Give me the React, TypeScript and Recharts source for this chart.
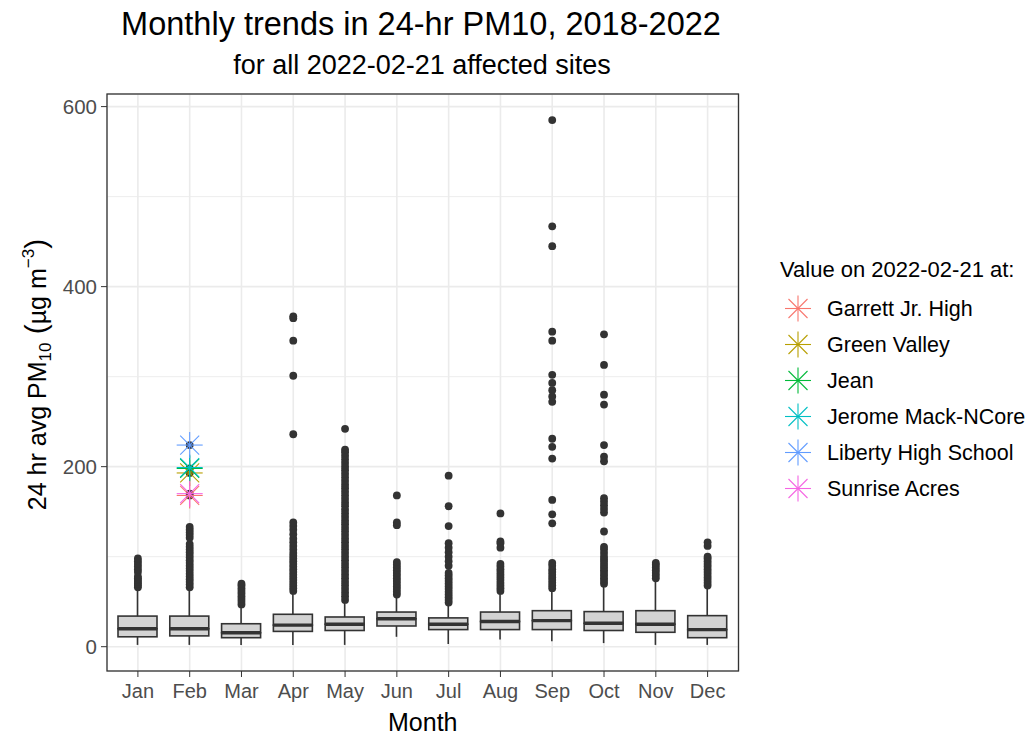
import { ComposedChart, Bar, Scatter, XAxis, YAxis, CartesianGrid, ReferenceLine } from 'recharts'

const months = ['Jan', 'Feb', 'Mar', 'Apr', 'May', 'Jun', 'Jul', 'Aug', 'Sep', 'Oct', 'Nov', 'Dec']
const whiskerLow = [2, 2, 2, 2, 2, 11, 3, 8, 6, 4, 2, 2]
const q1 = [11, 12, 10, 17, 18, 23, 19, 19, 19, 18, 16, 10]
const medians = [20, 20, 15.5, 24, 25, 31, 25, 28, 29, 26, 25, 19]
const q3 = [34, 34, 25.5, 36, 33, 38.5, 32, 38.5, 40, 39, 40, 34.5]
const whiskerHigh = [65, 65, 45, 61, 51, 56, 47, 60, 64, 68, 74, 67]

// outliers per month
const janOut = [66, 68, 70, 72, 74, 76, 78, 83, 86, 89, 92, 95, 98]
const febOut = [66, 69, 72, 75, 78, 81, 84, 87, 90, 93, 96, 99, 102, 105, 108, 111, 114, 121, 124, 127, 130, 133, 168, 170, 193, 198, 224]
const marOut = [47, 50, 53, 56, 59, 62, 65, 68, 70]
const aprOut = [62, 65, 68, 71, 74, 77, 80, 83, 86, 89, 92, 95, 98, 101, 104, 108, 112, 116, 120, 125, 130, 134, 138, 236, 301, 340, 365, 367]
const mayOut = [52, 56, 60, 64, 68, 72, 76, 80, 84, 88, 92, 96, 100, 104, 108, 112, 116, 120, 124, 128, 132, 136, 140, 144, 148, 152, 156, 160, 164, 168, 172, 176, 180, 184, 188, 192, 196, 200, 204, 208, 212, 216, 219, 242]
const junOut = [58, 61, 64, 67, 70, 73, 76, 79, 82, 85, 88, 91, 94, 135, 138, 168]
const julOut = [49, 52, 55, 58, 61, 64, 67, 70, 73, 76, 79, 82, 90, 95, 100, 105, 110, 115, 134, 156, 190]
const augOut = [62, 65, 68, 71, 74, 77, 80, 83, 86, 89, 92, 110, 115, 117, 148]
const sepOut = [65, 68, 71, 74, 77, 80, 83, 86, 90, 93, 137, 147, 163, 209, 222, 231, 272, 278, 285, 293, 302, 340, 350, 445, 467, 585]
const octOut = [70, 73, 76, 79, 82, 85, 88, 91, 94, 97, 100, 104, 108, 111, 128, 149, 153, 157, 161, 165, 206, 211, 224, 269, 280, 313, 347]
const novOut = [76, 79, 82, 85, 88, 91, 93]
const decOut = [68, 71, 74, 77, 80, 83, 86, 89, 92, 95, 98, 100, 112, 116]
const outliersByMonth = [janOut, febOut, marOut, aprOut, mayOut, junOut, julOut, augOut, sepOut, octOut, novOut, decOut]

const sites = ['Garrett Jr. High', 'Green Valley', 'Jean', 'Jerome Mack-NCore', 'Liberty High School', 'Sunrise Acres']
const siteColors = ['#F8766D', '#B79F00', '#00BA38', '#00BFC4', '#619CFF', '#F564E3']
const siteValues = [168, 193, 198, 199, 224, 170]
const siteMonth = 'Feb'

const yTicks = [0, 200, 400, 600]
const minorTicks = [100, 300, 500]

const INK = '#333333'
const GRID = '#EBEBEB'

const boxData = months.map((m, i) => ({
  month: m,
  base: whiskerLow[i],
  lowWhisker: q1[i] - whiskerLow[i],
  lowerBox: medians[i] - q1[i],
  upperBox: q3[i] - medians[i],
  highWhisker: whiskerHigh[i] - q3[i],
}))

const outlierPoints = months.flatMap((m, i) => outliersByMonth[i].map((v) => ({ month: m, value: v })))

const Empty = () => <g />

const Whisker = (p: any) => (
  <line x1={p.x + p.width / 2} x2={p.x + p.width / 2} y1={p.y} y2={p.y + p.height} stroke={INK} strokeWidth={1.6} />
)

const LowerBox = (p: any) => (
  <rect x={p.x} y={p.y} width={p.width} height={p.height} fill="#D3D3D3" stroke={INK} strokeWidth={1.6} />
)

const UpperBox = (p: any) => (
  <g>
    <rect x={p.x} y={p.y} width={p.width} height={p.height} fill="#D3D3D3" stroke={INK} strokeWidth={1.6} />
    <line x1={p.x} x2={p.x + p.width} y1={p.y + p.height} y2={p.y + p.height} stroke={INK} strokeWidth={3.4} />
  </g>
)

const Dot = (p: any) => <circle cx={p.cx} cy={p.cy} r={3.9} fill={INK} />

function Star({ x, y, color }: { x: number; y: number; color: string }) {
  const r = 13
  const d = 9.5
  return (
    <g stroke={color} strokeWidth={1.1}>
      <line x1={x - r} x2={x + r} y1={y} y2={y} />
      <line x1={x} x2={x} y1={y - r} y2={y + r} />
      <line x1={x - d} x2={x + d} y1={y - d} y2={y + d} />
      <line x1={x - d} x2={x + d} y1={y + d} y2={y - d} />
    </g>
  )
}

const YLabel = ({ viewBox }: any) => {
  const x = viewBox.x + 46
  const y = viewBox.y + viewBox.height / 2 - 8
  return (
    <text transform={`translate(${x},${y}) rotate(-90)`} textAnchor="middle" fontSize={25} fill="#000">
      24 hr avg PM<tspan fontSize={17} dy={5}>10</tspan>
      <tspan dy={-5} fontSize={30}> (</tspan>
      <tspan>µg m</tspan>
      <tspan fontSize={17} dy={-12}>−3</tspan>
      <tspan dy={12} fontSize={30}>)</tspan>
    </text>
  )
}

export default function App() {
  return (
    <div style={{ position: 'absolute', left: 0, top: 0, width: 1029, height: 736, background: '#fff', fontFamily: '"Liberation Sans", Arial, sans-serif' }}>
      <ComposedChart width={1029} height={736} data={boxData} margin={{ top: 94, right: 290.5, bottom: 0, left: 0 }}>
        <CartesianGrid stroke={GRID} strokeWidth={1.6} />
        {minorTicks.map((t) => (
          <ReferenceLine key={t} y={t} stroke={GRID} strokeWidth={0.9} />
        ))}
        <XAxis
          dataKey="month"
          type="category"
          allowDuplicatedCategory={false}
          padding={{ left: 5, right: 5 }}
          height={65}
          interval={0}
          axisLine={false}
          tickSize={6}
          tickMargin={7}
          tickLine={{ stroke: INK }}
          tick={{ fontSize: 20, fill: '#4D4D4D' }}
          label={{ value: 'Month', position: 'insideBottom', offset: 5, fontSize: 25, fill: '#000' }}
        />
        <YAxis
          type="number"
          domain={[-27, 614]}
          ticks={yTicks}
          allowDataOverflow
          width={107}
          axisLine={false}
          tickSize={6}
          tickMargin={4}
          tickLine={{ stroke: INK }}
          tick={{ fontSize: 20.5, fill: '#4D4D4D' }}
          label={{ content: YLabel }}
        />
        <Bar dataKey="base" stackId="box" barSize={39} shape={Empty} isAnimationActive={false} />
        <Bar dataKey="lowWhisker" stackId="box" barSize={39} shape={Whisker} isAnimationActive={false} />
        <Bar dataKey="lowerBox" stackId="box" barSize={39} shape={LowerBox} isAnimationActive={false} />
        <Bar dataKey="upperBox" stackId="box" barSize={39} shape={UpperBox} isAnimationActive={false} />
        <Bar dataKey="highWhisker" stackId="box" barSize={39} shape={Whisker} isAnimationActive={false} />
        <Scatter data={outlierPoints} dataKey="value" shape={Dot} isAnimationActive={false} />
        {sites.map((s, i) => (
          <Scatter
            key={s}
            name={s}
            data={[{ month: siteMonth, value: siteValues[i] }]}
            dataKey="value"
            fill={siteColors[i]}
            shape={(p: any) => <Star x={p.cx} y={p.cy} color={siteColors[i]} />}
            isAnimationActive={false}
          />
        ))}
      </ComposedChart>
      <svg width={1029} height={736} style={{ position: 'absolute', left: 0, top: 0, pointerEvents: 'none' }}>
        <rect x={107} y={94} width={631.5} height={577} fill="none" stroke={INK} strokeWidth={1.3} />
        <text x={421} y={35} textAnchor="middle" fontSize={32.5} fill="#000">Monthly trends in 24-hr PM10, 2018-2022</text>
        <text x={422} y={74} textAnchor="middle" fontSize={27} fill="#000">for all 2022-02-21 affected sites</text>
        <text x={780} y={277} fontSize={22} fill="#000">Value on 2022-02-21 at:</text>
        {sites.map((s, i) => (
          <g key={s}>
            <Star x={798} y={308.5 + i * 36} color={siteColors[i]} />
            <text x={827} y={308.5 + i * 36 + 7.5} fontSize={21.5} fill="#000">{s}</text>
          </g>
        ))}
      </svg>
    </div>
  )
}
